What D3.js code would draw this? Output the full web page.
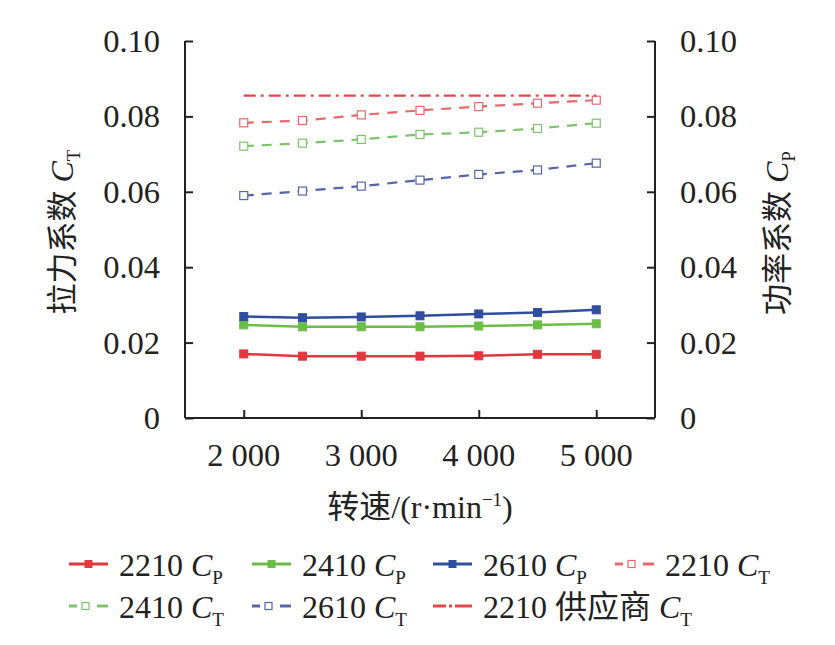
<!DOCTYPE html>
<html><head><meta charset="utf-8">
<script src="https://cdn.jsdelivr.net/npm/d3@7/dist/d3.min.js"></script>
<style>
body{margin:0;background:#fff;}
svg text{font-family:"Liberation Serif","Times New Roman",Times,"DejaVu Serif","Noto Sans CJK SC",serif;fill:#222;}
</style></head><body>
<svg id="c" width="835" height="645"></svg>
<script>
const speeds = [2000, 2500, 3000, 3500, 4000, 4500, 5000];
const cp2210 = [0.0170, 0.0164, 0.0164, 0.0164, 0.0165, 0.0169, 0.0169];
const cp2410 = [0.0247, 0.0242, 0.0242, 0.0242, 0.0244, 0.0247, 0.0250];
const cp2610 = [0.0269, 0.0266, 0.0268, 0.0271, 0.0276, 0.0280, 0.0287];
const ct2210 = [0.0783, 0.0789, 0.0804, 0.0816, 0.0826, 0.0835, 0.0843];
const ct2410 = [0.0721, 0.0729, 0.0739, 0.0752, 0.0758, 0.0768, 0.0782];
const ct2610 = [0.0590, 0.0602, 0.0615, 0.0631, 0.0646, 0.0658, 0.0676];
const ctSupplier = [0.0855, 0.0855, 0.0855, 0.0855, 0.0855, 0.0855, 0.0855];
const xTicks = [2000, 3000, 4000, 5000];
const yTicks = [0, 0.02, 0.04, 0.06, 0.08, 0.10];

const series = [
  {name:"2210", sub:"P", vals:cp2210, color:"#e0383d", dash:null, marker:"filled", axis:"right"},
  {name:"2410", sub:"P", vals:cp2410, color:"#6cbd48", dash:null, marker:"filled", axis:"right"},
  {name:"2610", sub:"P", vals:cp2610, color:"#2f4ea0", dash:null, marker:"filled", axis:"right"},
  {name:"2210", sub:"T", vals:ct2210, color:"#e6686b", dash:"10,8", marker:"open", axis:"left"},
  {name:"2410", sub:"T", vals:ct2410, color:"#7cc46a", dash:"10,8", marker:"open", axis:"left"},
  {name:"2610", sub:"T", vals:ct2610, color:"#5566a8", dash:"10,8", marker:"open", axis:"left"},
  {name:"2210 供应商", sub:"T", vals:ctSupplier, color:"#e2474c", dash:"12,5,3,5", marker:null, axis:"left"}
];

const svg = d3.select("#c");
const L = 185, R = 655, T = 41, B = 418;
const x = d3.scaleLinear().domain([1500, 5500]).range([L, R]);
const yL = d3.scaleLinear().domain([0, 0.10]).range([B, T]);
const yR = d3.scaleLinear().domain([0, 0.10]).range([B, T]);
const fmt = d => d === 0 ? "0" : d3.format(".2f")(d);

const gl = svg.append("g").attr("transform",`translate(${L},0)`)
  .call(d3.axisRight(yL).tickValues(yTicks).tickSize(8).tickFormat(""));
const gr = svg.append("g").attr("transform",`translate(${R},0)`)
  .call(d3.axisLeft(yR).tickValues(yTicks).tickSize(8).tickFormat(""));
const gb = svg.append("g").attr("transform",`translate(0,${B})`)
  .call(d3.axisTop(x).tickValues(xTicks).tickSize(8).tickFormat(""));
[gl,gr,gb].forEach(g=>{
  g.selectAll("path").attr("stroke","#222").attr("stroke-width",2);
  g.selectAll("line").attr("stroke","#222").attr("stroke-width",2);
});
gb.select(".domain").attr("d",`M${L},0H${R}`);
gl.select(".domain").attr("d",`M0,${T}V${B}`);
gr.select(".domain").attr("d",`M0,${T}V${B}`);

svg.append("g").selectAll("text").data(yTicks).join("text")
  .attr("x",160).attr("y",d=>yL(d)+11).attr("text-anchor","end")
  .attr("font-size",32.5).text(fmt);
svg.append("g").selectAll("text").data(yTicks).join("text")
  .attr("x",680).attr("y",d=>yR(d)+11).attr("text-anchor","start")
  .attr("font-size",32.5).text(fmt);
svg.append("g").selectAll("text").data(xTicks).join("text")
  .attr("x",d=>x(d)).attr("y",466).attr("text-anchor","middle")
  .attr("font-size",32.5).text(d=>d3.format(",")(d).replace(","," "));

function titleWithSub(g, main, sub){
  const t = g.append("text").attr("font-size",31);
  t.append("tspan").text(main);
  t.append("tspan").attr("font-style","italic").attr("font-size",32).text(" C");
  t.append("tspan").attr("font-size",19).attr("dy",7).text(sub);
  return t;
}
const tl = svg.append("g").attr("transform","translate(73,232) rotate(-90)");
titleWithSub(tl,"拉力系数","T").attr("text-anchor","middle");
const tr = svg.append("g").attr("transform","translate(788,233) rotate(-90)");
titleWithSub(tr,"功率系数","P").attr("text-anchor","middle");
const xt = svg.append("text").attr("x",420).attr("y",518).attr("text-anchor","middle").attr("font-size",32);
xt.append("tspan").text("转速/(r·min");
xt.append("tspan").attr("font-size",19).attr("dy",-12).text("−1");
xt.append("tspan").attr("dy",12).text(")");

const plot = svg.append("g");
series.forEach(s=>{
  const y = s.axis === "left" ? yL : yR;
  const pts = speeds.map((v,i)=>[v, s.vals[i]]);
  plot.append("path").datum(pts)
    .attr("fill","none").attr("stroke",s.color).attr("stroke-width",s.dash?2.2:2.5)
    .attr("stroke-dasharray",s.dash)
    .attr("d",d3.line().x(d=>x(d[0])).y(d=>y(d[1])));
  if(s.marker){
    const sz = 8;
    plot.append("g").selectAll("rect").data(pts).join("rect")
      .attr("x",d=>x(d[0])-sz/2).attr("y",d=>y(d[1])-sz/2)
      .attr("width",sz).attr("height",sz)
      .attr("fill",s.marker==="filled"?s.color:"#fff")
      .attr("stroke",s.color).attr("stroke-width",s.marker==="filled"?1:1.2);
  }
});

const legPos = [[69,564],[252,564],[433,564],[615,564],[69,606],[252,606],[433,606]];
series.forEach((s,i)=>{
  const [lx,ly] = legPos[i];
  const g = svg.append("g").attr("transform",`translate(${lx},${ly})`);
  if(s.dash){
    const segs = s.marker ? [[0,8],[28,39]] : [[0,13],[16,19],[22,39]];
    segs.forEach(([a,b])=>g.append("line").attr("x1",a).attr("x2",b).attr("y1",0).attr("y2",0)
      .attr("stroke",s.color).attr("stroke-width",3));
    if(s.marker){
      g.append("rect").attr("x",13).attr("y",-3.5).attr("width",7).attr("height",7)
        .attr("fill","#fff").attr("stroke",s.color).attr("stroke-width",1.2);
    }
  } else {
    g.append("line").attr("x1",0).attr("x2",39).attr("y1",0).attr("y2",0)
      .attr("stroke",s.color).attr("stroke-width",3);
    g.append("rect").attr("x",15.5).attr("y",-4).attr("width",8).attr("height",8).attr("fill",s.color);
  }
  const t = g.append("text").attr("x",50).attr("y",12).attr("font-size",32);
  t.append("tspan").text(s.name);
  t.append("tspan").attr("font-style","italic").text(" C");
  t.append("tspan").attr("font-size",19).attr("dy",8).text(s.sub);
});
</script></body></html>
